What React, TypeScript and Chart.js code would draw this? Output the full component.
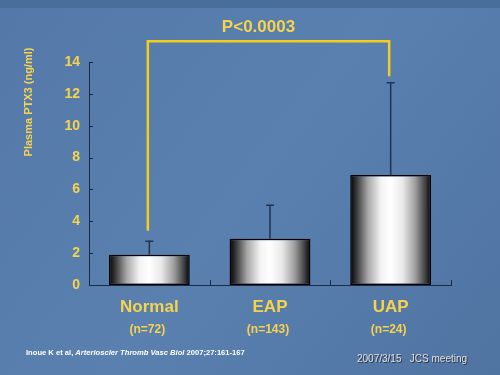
import React, { useEffect, useRef } from "react";
import { Chart, registerables } from "chart.js";

Chart.register(...registerables);

const categories = ["Normal", "EAP", "UAP"];
const sampleSizes = ["(n=72)", "(n=143)", "(n=24)"];
const means = [1.9, 2.9, 6.9];
const upperErrors = [2.75, 5.0, 12.7];
const yTicks = [0, 2, 4, 6, 8, 10, 12, 14];
const pValueText = "P<0.0003";
const bracketLeftBottom = 3.4;
const bracketRightBottom = 13.1;
const bracketTop = 15.3;
const yTitle = "Plasma PTX3 (ng/ml)";
const citeAuthor = "Inoue K et al, ";
const citeJournal = "Arterioscler Thromb Vasc Biol ";
const citeRef = "2007;27:161-167";
const footerRight = "2007/3/15   JCS meeting";

const YELLOW = "#F6D34C";
const FONT = "'Liberation Sans', Arial, sans-serif";

export default function App() {
  const ref = useRef<HTMLCanvasElement | null>(null);

  useEffect(() => {
    document.body.style.margin = "0";
    const canvas = ref.current!;
    const BAR_FRAC = 0.67;

    const bgPlugin = {
      id: "bg",
      beforeDraw(chart: any) {
        const { ctx, width, height } = chart;
        ctx.save();
        const g = ctx.createLinearGradient(0, 0, width, height);
        g.addColorStop(0, "#5479a8");
        g.addColorStop(0.5, "#5a80b0");
        g.addColorStop(1, "#4f74a2");
        ctx.fillStyle = g;
        ctx.fillRect(0, 0, width, height);
        ctx.fillStyle = "#4a6e9c";
        ctx.fillRect(0, 0, width, 8);
        ctx.restore();
      },
    };

    const decoPlugin = {
      id: "deco",
      afterDraw(chart: any) {
        const { ctx } = chart;
        const x = chart.scales.x;
        const y = chart.scales.y;
        const area = chart.chartArea;
        ctx.save();
        // inward tick marks on y axis
        ctx.strokeStyle = "#1c2b40";
        ctx.lineWidth = 1;
        yTicks.forEach((v) => {
          const py = Math.round(y.getPixelForValue(v)) + 0.5;
          ctx.beginPath();
          ctx.moveTo(area.left, py);
          ctx.lineTo(area.left + 4, py);
          ctx.stroke();
        });
        // x axis category boundary ticks
        for (let i = 0; i < categories.length; i++) {
          const px = Math.round(x.getPixelForValue(i) + (x.getPixelForValue(1) - x.getPixelForValue(0)) / 2) + 0.5;
          ctx.beginPath();
          ctx.moveTo(px, area.bottom);
          ctx.lineTo(px, area.bottom - 5);
          ctx.stroke();
        }
        // error bars
        const meta = chart.getDatasetMeta(0);
        ctx.strokeStyle = "#1f3351";
        ctx.lineWidth = 1.5;
        meta.data.forEach((bar: any, i: number) => {
          const top = y.getPixelForValue(means[i]);
          const hi = y.getPixelForValue(upperErrors[i]);
          ctx.beginPath();
          ctx.moveTo(bar.x, top);
          ctx.lineTo(bar.x, hi);
          ctx.moveTo(bar.x - 4, hi);
          ctx.lineTo(bar.x + 4, hi);
          ctx.stroke();
        });
        // bracket
        const lx = x.getPixelForValue(0) - 1.5;
        const rx = x.getPixelForValue(2) - 1.5;
        const ty = y.getPixelForValue(bracketTop);
        ctx.strokeStyle = "#F2CD1E";
        ctx.lineWidth = 2.5;
        ctx.beginPath();
        ctx.moveTo(lx, y.getPixelForValue(bracketLeftBottom));
        ctx.lineTo(lx, ty);
        ctx.lineTo(rx, ty);
        ctx.lineTo(rx, y.getPixelForValue(bracketRightBottom));
        ctx.stroke();
        ctx.fillStyle = YELLOW;
        ctx.font = `bold 17px ${FONT}`;
        ctx.textAlign = "center";
        ctx.textBaseline = "middle";
        ctx.fillText(pValueText, (lx + rx) / 2 - 10, ty - 14);
        // sample sizes
        ctx.font = `bold 12px ${FONT}`;
        sampleSizes.forEach((s, i) => {
          ctx.fillText(s, x.getPixelForValue(i) - 2, 330);
        });
        // y title
        ctx.save();
        ctx.translate(29, 102);
        ctx.rotate(-Math.PI / 2);
        ctx.font = `bold 11px ${FONT}`;
        ctx.fillText(yTitle, 0, 0);
        ctx.restore();
        // footer citation
        ctx.textAlign = "left";
        ctx.fillStyle = "#ffffff";
        let fx = 26;
        ctx.font = `bold 7.6px ${FONT}`;
        ctx.fillText(citeAuthor, fx, 353);
        fx += ctx.measureText(citeAuthor).width;
        ctx.font = `italic bold 7.6px ${FONT}`;
        ctx.fillText(citeJournal, fx, 353);
        fx += ctx.measureText(citeJournal).width;
        ctx.font = `bold 7.6px ${FONT}`;
        ctx.fillText(citeRef, fx, 353);
        // footer right
        ctx.font = `10px ${FONT}`;
        ctx.fillStyle = "#2a3340";
        ctx.fillText(footerRight, 358, 360);
        ctx.fillStyle = "#e0e0e0";
        ctx.fillText(footerRight, 357, 359);
        ctx.restore();
      },
    };

    const barGradient = (c: any) => {
      const chart = c.chart;
      const x = chart.scales?.x;
      if (!chart.chartArea || !x) return "#cccccc";
      const cx = x.getPixelForValue(c.dataIndex);
      const w = (x.getPixelForValue(1) - x.getPixelForValue(0)) * BAR_FRAC;
      const g = chart.ctx.createLinearGradient(cx - w / 2, 0, cx + w / 2, 0);
      g.addColorStop(0, "#000000");
      g.addColorStop(0.08, "#3a3a3a");
      g.addColorStop(0.22, "#a8a8a8");
      g.addColorStop(0.38, "#f4f4f4");
      g.addColorStop(0.5, "#ffffff");
      g.addColorStop(0.65, "#e8e8e8");
      g.addColorStop(0.8, "#a0a0a0");
      g.addColorStop(0.93, "#404040");
      g.addColorStop(1, "#000000");
      return g;
    };

    const chart = new Chart(canvas, {
      type: "bar",
      data: {
        labels: categories,
        datasets: [
          {
            data: means,
            backgroundColor: barGradient,
            borderColor: "#000000",
            borderWidth: 1.5,
            borderSkipped: false,
            barPercentage: BAR_FRAC,
            categoryPercentage: 1,
          },
        ],
      },
      options: {
        animation: false,
        responsive: false,
        layout: { padding: { left: 0, top: 62, right: 49, bottom: 0 } },
        plugins: { legend: { display: false }, tooltip: { enabled: false } },
        scales: {
          x: {
            grid: { display: false, drawTicks: false },
            border: { display: true, color: "#1c2b40", width: 1 },
            ticks: {
              color: YELLOW,
              font: { family: FONT, size: 17, weight: "bold" },
              padding: 12,
            },
            afterFit: (s: any) => {
              s.height = 90;
            },
          },
          y: {
            min: 0,
            max: 14,
            grid: { display: false, drawTicks: false },
            border: { display: true, color: "#1c2b40", width: 1 },
            ticks: {
              stepSize: 2,
              color: YELLOW,
              font: { family: FONT, size: 14, weight: "bold" },
              padding: 9,
            },
            afterFit: (s: any) => {
              s.width = 89;
            },
          },
        },
      },
      plugins: [bgPlugin, decoPlugin],
    } as any);
    return () => chart.destroy();
  }, []);

  return (
    <div style={{ position: "fixed", left: 0, top: 0, width: 500, height: 375 }}>
      <canvas ref={ref} width={500} height={375} />
    </div>
  );
}
